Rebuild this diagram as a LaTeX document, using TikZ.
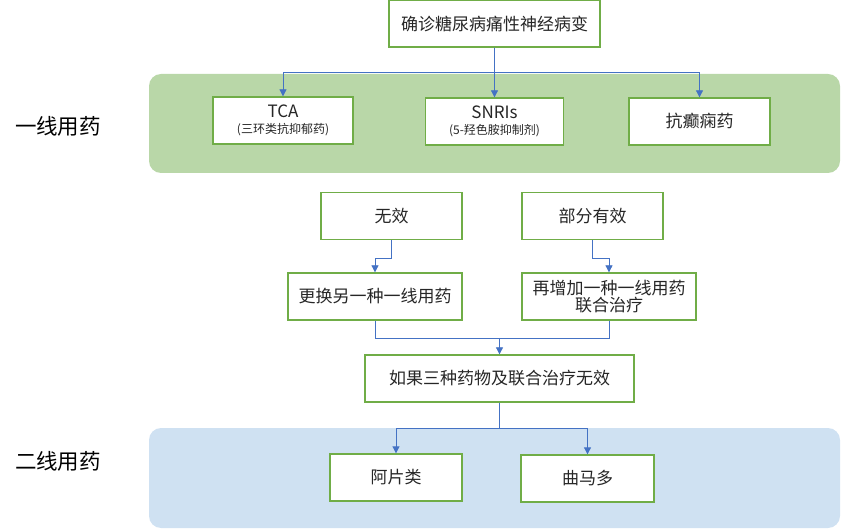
\documentclass[tikz,border=0pt]{standalone}
\usepackage{fontspec}
\setmainfont{Noto Sans CJK SC}
\usepackage{tikz}
\usetikzlibrary{arrows.meta}

\definecolor{boxgreen}{HTML}{70AD47}
\definecolor{bandgreen}{HTML}{B9D7A8}
\definecolor{bandblue}{HTML}{CFE1F2}
\definecolor{linkblue}{HTML}{4472C4}

\tikzset{
  flow/box/.style={draw=boxgreen,line width=1.3pt,fill=white,text=black!85,
    inner sep=0pt,align=center,minimum height=47pt,font=\fontsize{17}{20}\selectfont},
  flow/band/.style={rounded corners=12pt},
  flow/line/.style={draw=linkblue,line width=0.8pt},
  flow/link/.style={flow/line,-{Triangle[length=7pt,width=7pt]}},
  flow/tier/.style={text=black,font=\fontsize{21.5}{24}\selectfont},
  flow/note/.style={font=\fontsize{12}{13}\selectfont}
}

\begin{document}
\begin{tikzpicture}[x=1pt,y=-1pt]
\useasboundingbox (0,0) rectangle (841,529);
% background bands
\fill[flow/band,bandgreen] (149,74) rectangle (840,173);
\fill[flow/band,bandblue] (149,428) rectangle (840,528);
\node[flow/tier] (tier1) at (58,126) {一线用药};
\node[flow/tier] (tier2) at (58,461) {二线用药};
% first line
\node[flow/box,minimum width=211pt] (diag) at (494.5,23.5) {确诊糖尿病痛性神经病变};
\node[flow/box,minimum width=140pt] (tca) at (283,120.5)
  {TCA\\[-4pt]{\fontsize{12}{13}\selectfont (三环类抗抑郁药)}};
\node[flow/box,minimum width=138pt] (snri) at (494.5,121.5)
  {SNRIs\\[-4pt]{\fontsize{12}{13}\selectfont (5-羟色胺抑制剂)}};
\node[flow/box,minimum width=141pt] (aed) at (699.5,121.5) {抗癫痫药};
% response
\node[flow/box,minimum width=141pt] (fail) at (391.5,216) {无效};
\node[flow/box,minimum width=141pt] (partial) at (592.5,216) {部分有效};
\node[flow/box,minimum width=174pt] (switch) at (375,296.5) {更换另一种一线用药};
\node[flow/box,minimum width=174pt] (combine) at (609,296.5) {再增加一种一线用药\\[-3pt]联合治疗};
\node[flow/box,minimum width=269pt] (allfail) at (499.5,378.5) {如果三种药物及联合治疗无效};
% second line
\node[flow/box,minimum width=132pt] (opioid) at (396,477.5) {阿片类};
\node[flow/box,minimum width=133pt] (tramadol) at (587.5,478.5) {曲马多};
% connectors
\draw[flow/link] (diag.south) -- ++(0,25) -| (tca.north);
\draw[flow/link] (diag.south) -- (snri.north);
\draw[flow/link] (diag.south) -- ++(0,25) -| (aed.north);
\draw[flow/link] (fail.south) -- ++(0,18) -| (switch.north);
\draw[flow/link] (partial.south) -- ++(0,18) -| (combine.north);
\coordinate (merge) at (allfail.north |- 0,338);
\draw[flow/line] (switch.south) |- (merge);
\draw[flow/line] (combine.south) |- (merge);
\draw[flow/link] (merge) -- (allfail.north);
\draw[flow/link] (allfail.south) -- ++(0,26) -| (opioid.north);
\draw[flow/link] (allfail.south) -- ++(0,26) -| (tramadol.north);
\end{tikzpicture}
\end{document}
